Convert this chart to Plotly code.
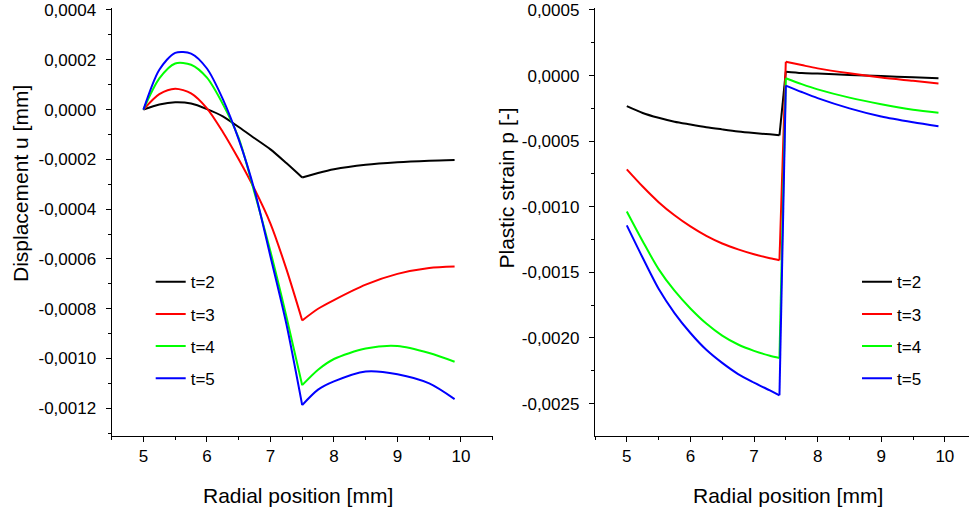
import plotly.graph_objects as go

# ---------------- data ----------------
series_names = ["t=2", "t=3", "t=4", "t=5"]
series_colors = ["#000000", "#FF0000", "#00FF00", "#0000FF"]

# Left panel: displacement u [mm]
x_disp = [5.0, 5.25, 5.5, 5.75, 6.0, 6.25, 6.5, 6.75, 7.0, 7.25, 7.5,
          7.75, 8.0, 8.5, 9.0, 9.5, 9.9]
u_t2 = [0.0, 0.000020, 0.000029, 0.000024, 0.000002, -0.000027, -0.000070,
        -0.000115, -0.000160, -0.000215, -0.000273, -0.000255, -0.000240,
        -0.000222, -0.000212, -0.000206, -0.000203]
u_t3 = [0.0, 0.000062, 0.000084, 0.000065, 0.000005, -0.000090, -0.000200,
        -0.000320, -0.000458, -0.000640, -0.000847, -0.000800, -0.000765,
        -0.000703, -0.000660, -0.000636, -0.000630]
u_t4 = [0.0, 0.000125, 0.000185, 0.000180, 0.000128, 0.000022, -0.000115,
        -0.000335, -0.000570, -0.000830, -0.001107, -0.001045, -0.001002,
        -0.000960, -0.000950, -0.000978, -0.001013]
u_t5 = [0.0, 0.000160, 0.000228, 0.000225, 0.000165, 0.000042, -0.000120,
        -0.000325, -0.000590, -0.000860, -0.001187, -0.001125, -0.001092,
        -0.001052, -0.001063, -0.001100, -0.001163]
disp_kinks = [7.5]

# Right panel: plastic strain p [-]
x_strain = [5.0, 5.25, 5.5, 5.75, 6.0, 6.25, 6.5, 6.75, 7.0, 7.25, 7.4, 7.5,
            7.75, 8.0, 8.5, 9.0, 9.5, 9.9]
p_t2 = [-0.000233, -0.000285, -0.000322, -0.000352, -0.000373, -0.000393,
        -0.000410, -0.000426, -0.000438, -0.000448, -0.000455, 0.000030,
        0.000020, 0.000015, 0.000005, -0.000004, -0.000013, -0.000020]
p_t3 = [-0.000715, -0.000846, -0.000965, -0.001065, -0.001150, -0.001222,
        -0.001280, -0.001325, -0.001362, -0.001392, -0.001407, 0.000106,
        0.000080, 0.000055, 0.000017, -0.000015, -0.000040, -0.000060]
p_t4 = [-0.001036, -0.001263, -0.001475, -0.001640, -0.001775, -0.001890,
        -0.001982, -0.002050, -0.002098, -0.002135, -0.002152, -0.000020,
        -0.000065, -0.000105, -0.000168, -0.000218, -0.000260, -0.000283]
p_t5 = [-0.001142, -0.001389, -0.001625, -0.001810, -0.001962, -0.002090,
        -0.002190, -0.002275, -0.002340, -0.002400, -0.002437, -0.000076,
        -0.000125, -0.000172, -0.000250, -0.000312, -0.000356, -0.000386]
strain_kinks = [7.4, 7.5]

# Tick labels
x_tickvals = [5, 6, 7, 8, 9, 10]
x_ticktext = ["5", "6", "7", "8", "9", "10"]
u_tickvals = [0.0004, 0.0002, 0.0, -0.0002, -0.0004, -0.0006, -0.0008, -0.0010, -0.0012]
u_ticktext = ["0,0004", "0,0002", "0,0000", "-0,0002", "-0,0004", "-0,0006",
              "-0,0008", "-0,0010", "-0,0012"]
p_tickvals = [0.0005, 0.0, -0.0005, -0.0010, -0.0015, -0.0020, -0.0025]
p_ticktext = ["0,0005", "0,0000", "-0,0005", "-0,0010", "-0,0015", "-0,0020", "-0,0025"]

x_title = "Radial position [mm]"
u_title = "Displacement u [mm]"
p_title = "Plastic strain p [-]"


def split_at(xs, ys, kinks):
    """Break a polyline into smooth pieces at the kink x-values (gap = None)."""
    ox, oy = [], []
    for i, (xv, yv) in enumerate(zip(xs, ys)):
        ox.append(xv)
        oy.append(yv)
        if xv in kinks and 0 < i < len(xs) - 1:
            ox.extend([None, xv])
            oy.extend([None, yv])
    return ox, oy


# ---------------- figure ----------------
W, H = 969, 513
FONT = "Arial, 'Liberation Sans', sans-serif"


def px(v):
    return v / W


def py(v):
    return 1 - v / H


fig = go.Figure()
u_series = [u_t2, u_t3, u_t4, u_t5]
p_series = [p_t2, p_t3, p_t4, p_t5]
for i, name in enumerate(series_names):
    sx, sy = split_at(x_disp, u_series[i], disp_kinks)
    fig.add_trace(go.Scatter(x=sx, y=sy, mode="lines", name=name, connectgaps=False,
                             line=dict(color=series_colors[i], width=2,
                                       shape="spline", smoothing=0.8),
                             xaxis="x", yaxis="y", legend="legend",
                             legendgroup="L" + name))
for i, name in enumerate(series_names):
    sx, sy = split_at(x_strain, p_series[i], strain_kinks)
    fig.add_trace(go.Scatter(x=sx, y=sy, mode="lines", name=name, connectgaps=False,
                             line=dict(color=series_colors[i], width=2,
                                       shape="spline", smoothing=0.8),
                             xaxis="x2", yaxis="y2", legend="legend2",
                             legendgroup="R" + name))

ydom = [py(435.7), py(8)]
common_x = dict(showline=True, linecolor="black", linewidth=1.3, ticks="outside",
                ticklen=5, tickwidth=1.3, tickcolor="black", showgrid=False,
                zeroline=False, tickvals=x_tickvals, ticktext=x_ticktext,
                tickfont=dict(size=17, color="black", family=FONT),
                automargin=False, ticklabelstandoff=0, ticklabeloverflow="allow",
                minor=dict(ticks="outside", ticklen=3, dtick=0.5, tick0=4.5,
                           tickcolor="black", tickwidth=1.3, showgrid=False))
common_y = dict(showline=True, linecolor="black", linewidth=1.3, ticks="outside",
                ticklen=5, tickwidth=1.3, tickcolor="black", showgrid=False,
                zeroline=False, tickfont=dict(size=17, color="black", family=FONT),
                automargin=False, ticklabelstandoff=6, ticklabeloverflow="allow")

fig.update_layout(
    width=W, height=H,
    margin=dict(l=0, r=0, t=0, b=0),
    paper_bgcolor="white", plot_bgcolor="white",
    font=dict(family=FONT, color="black"),
    xaxis=dict(domain=[px(111.7), px(492.7)], range=[4.5, 10.5], anchor="y", **common_x),
    yaxis=dict(domain=ydom, range=[-0.00131, 0.000408], anchor="x",
               tickvals=u_tickvals, ticktext=u_ticktext,
               minor=dict(ticks="outside", ticklen=3, dtick=0.0001, tick0=0,
                          tickcolor="black", tickwidth=1.3, showgrid=False),
               **common_y),
    xaxis2=dict(domain=[px(595), 1.0], range=[4.5, 10.38], anchor="y2", **common_x),
    yaxis2=dict(domain=ydom, range=[-0.002745, 0.0005152], anchor="x2",
                tickvals=p_tickvals, ticktext=p_ticktext,
                minor=dict(ticks="outside", ticklen=3, dtick=0.00025, tick0=0,
                           tickcolor="black", tickwidth=1.3, showgrid=False),
                **common_y),
    legend=dict(x=px(150.7), y=py(264.3), xanchor="left", yanchor="top",
                bgcolor="rgba(0,0,0,0)", font=dict(size=17, family=FONT),
                tracegroupgap=7, traceorder="grouped"),
    legend2=dict(x=px(857), y=py(264.3), xanchor="left", yanchor="top",
                 bgcolor="rgba(0,0,0,0)", font=dict(size=17, family=FONT),
                 tracegroupgap=7, traceorder="grouped"),
    showlegend=True,
)

ann_font = dict(size=21, family=FONT, color="black")
fig.add_annotation(x=px(297.5), y=py(495), xref="paper", yref="paper",
                   xanchor="center", yanchor="middle",
                   text=x_title, showarrow=False, font=ann_font)
fig.add_annotation(x=px(788.3), y=py(495), xref="paper", yref="paper",
                   xanchor="center", yanchor="middle",
                   text=x_title, showarrow=False, font=ann_font)
fig.add_annotation(x=px(20), y=py(184), xref="paper", yref="paper",
                   xanchor="center", yanchor="middle",
                   text=u_title, showarrow=False, textangle=-90, font=ann_font)
fig.add_annotation(x=px(506), y=py(188.5), xref="paper", yref="paper",
                   xanchor="center", yanchor="middle",
                   text=p_title, showarrow=False, textangle=-90, font=ann_font)

# remove the browser's default 8px body margin so the figure sits at the page origin
fig.write_html("out.html", config={"displayModeBar": False},
               post_script="document.body.style.margin='0';")
